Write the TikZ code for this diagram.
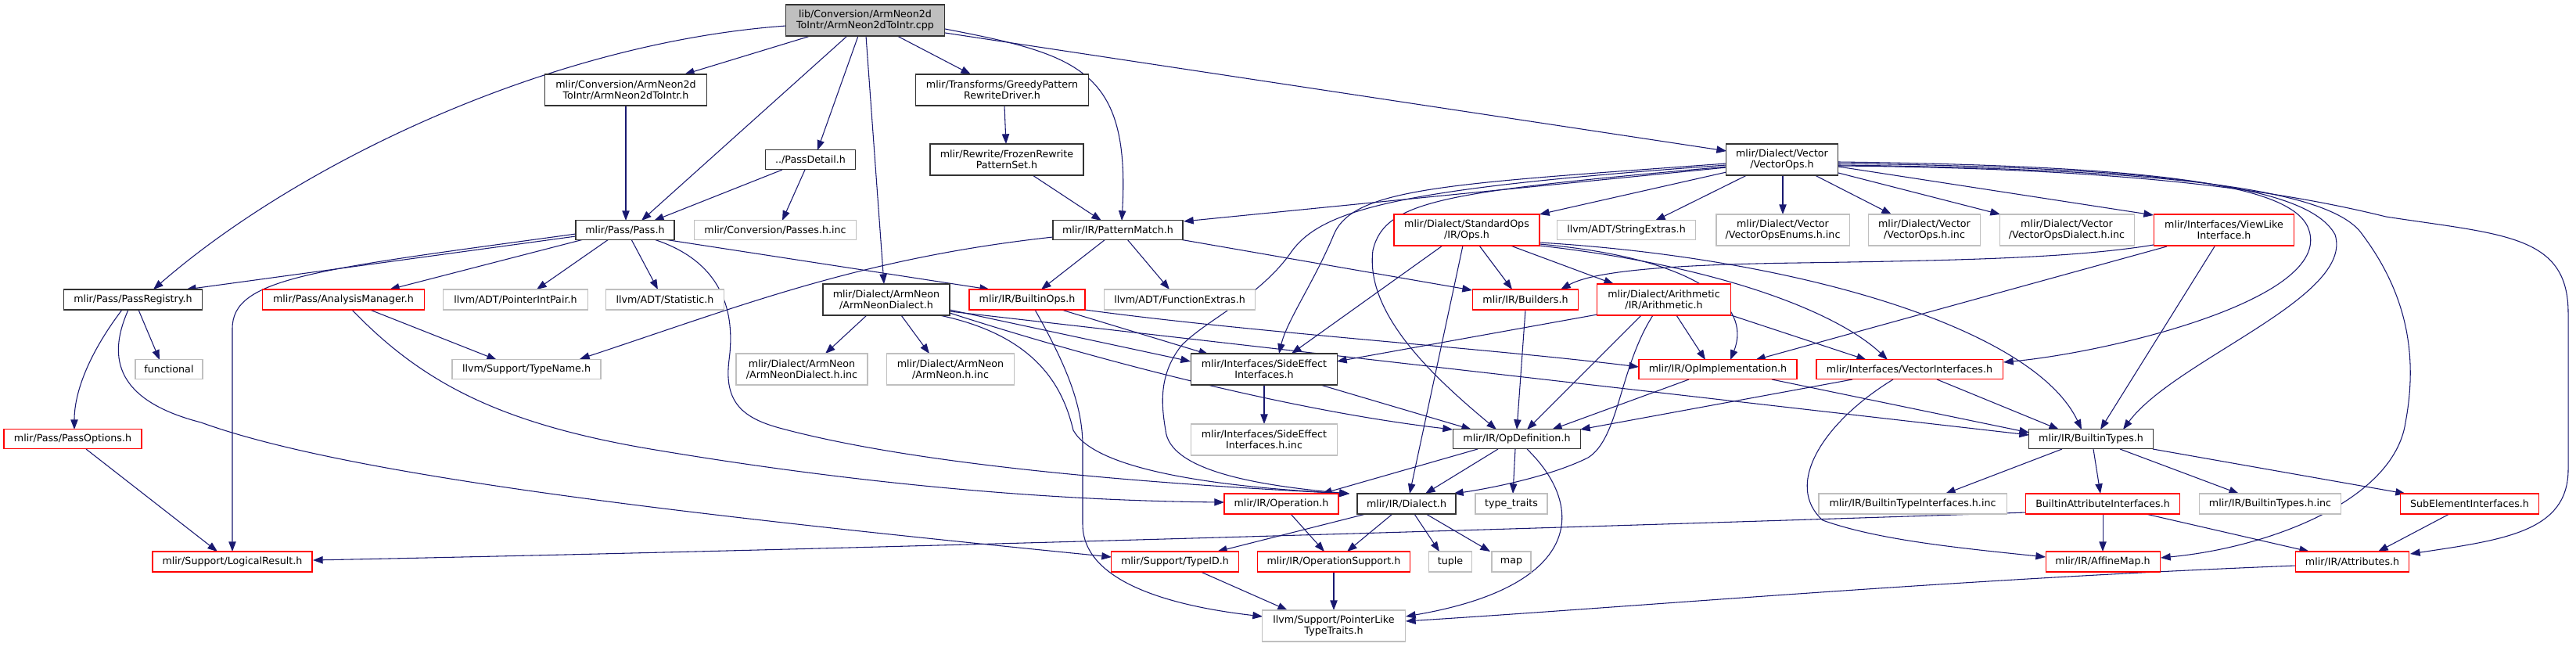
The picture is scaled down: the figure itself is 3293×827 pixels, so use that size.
\documentclass[tikz,border=0pt]{standalone}
\usepackage{fontspec}
\setmainfont{DejaVu Sans}
\usetikzlibrary{arrows.meta,calc,backgrounds}
\definecolor{edgec}{HTML}{191970}
\definecolor{boxgray}{HTML}{BFBFBF}
\definecolor{boxred}{HTML}{FF0000}
\begin{document}
\begin{tikzpicture}[x=0.75pt,y=-0.75pt,
 every node/.style={font=\fontsize{9.5}{10.7}\selectfont, align=center, inner sep=0pt, line width=0.8pt},
 sz/.style 2 args={minimum width=#1*0.75pt, minimum height=#2*0.75pt},
 nb/.style={draw=black!80, fill=white},
 nr/.style={draw=boxred, fill=white},
 ng/.style={draw=boxgray, fill=white},
 nroot/.style={draw=black!80, fill=boxgray},
 dep/.style={draw=edgec, line width=0.8pt, -{Triangle[length=9.5pt,width=7pt]}}]
\useasboundingbox (0,0) rectangle (3293,827);
% row 0
\node[nroot, sz={203}{40}] (root) at (1106,26) {lib/Conversion/ArmNeon2d\\ToIntr/ArmNeon2dToIntr.cpp};
% row 1
\node[nb, sz={207}{40}] (a2i) at (800,115) {mlir/Conversion/ArmNeon2d\\ToIntr/ArmNeon2dToIntr.h};
\node[nb, sz={221}{40}] (greedy) at (1281,115) {mlir/Transforms/GreedyPattern\\RewriteDriver.h};
% row 2
\node[nb, sz={115}{25}] (pdetail) at (1036,204) {../PassDetail.h};
\node[nb, sz={196}{40}] (frozen) at (1287,204) {mlir/Rewrite/FrozenRewrite\\PatternSet.h};
\node[nb, sz={143}{40}] (vops) at (2278,204) {mlir/Dialect/Vector\\/VectorOps.h};
% row 3
\node[nb, sz={126}{25}] (pass) at (799,294) {mlir/Pass/Pass.h};
\node[ng, sz={207}{25}] (passesinc) at (991,294) {mlir/Conversion/Passes.h.inc};
\node[nb, sz={166}{25}] (pmatch) at (1429,294) {mlir/IR/PatternMatch.h};
\node[nr, sz={186}{40}] (stdops) at (1875,294) {mlir/Dialect/StandardOps\\/IR/Ops.h};
\node[ng, sz={177}{25}] (strext) at (2079,294) {llvm/ADT/StringExtras.h};
\node[ng, sz={170}{40}] (venums) at (2279,294) {mlir/Dialect/Vector\\/VectorOpsEnums.h.inc};
\node[ng, sz={143}{40}] (vopsinc) at (2460,294) {mlir/Dialect/Vector\\/VectorOps.h.inc};
\node[ng, sz={172}{40}] (vdialinc) at (2642,294) {mlir/Dialect/Vector\\/VectorOpsDialect.h.inc};
\node[nr, sz={179}{40}] (viewlike) at (2843,294) {mlir/Interfaces/ViewLike\\Interface.h};
% row 4
\node[nb, sz={177}{26}] (passreg) at (170,383) {mlir/Pass/PassRegistry.h};
\node[nr, sz={207}{26}] (analysis) at (439,383) {mlir/Pass/AnalysisManager.h};
\node[ng, sz={185}{26}] (ptrint) at (659,383) {llvm/ADT/PointerIntPair.h};
\node[ng, sz={151}{26}] (statistic) at (850,383) {llvm/ADT/Statistic.h};
\node[nb, sz={162}{40}] (armdial) at (1133,383) {mlir/Dialect/ArmNeon\\/ArmNeonDialect.h};
\node[nr, sz={148}{26}] (builtinops) at (1313,383) {mlir/IR/BuiltinOps.h};
\node[ng, sz={193}{26}] (funcext) at (1508,383) {llvm/ADT/FunctionExtras.h};
\node[nr, sz={135}{26}] (builders) at (1950,383) {mlir/IR/Builders.h};
\node[nr, sz={171}{40}] (arith) at (2127,383) {mlir/Dialect/Arithmetic\\/IR/Arithmetic.h};
% row 5
\node[ng, sz={86}{25}] (functional) at (216,472) {functional};
\node[ng, sz={190}{25}] (typename) at (673,472) {llvm/Support/TypeName.h};
\node[ng, sz={168}{40}] (armdialinc) at (1025,472) {mlir/Dialect/ArmNeon\\/ArmNeonDialect.h.inc};
\node[ng, sz={163}{40}] (armneoninc) at (1215,472) {mlir/Dialect/ArmNeon\\/ArmNeon.h.inc};
\node[nb, sz={187}{40}] (sideeff) at (1616,472) {mlir/Interfaces/SideEffect\\Interfaces.h};
\node[nr, sz={202}{25}] (opimpl) at (2196,472) {mlir/IR/OpImplementation.h};
\node[nr, sz={238}{25}] (vecintf) at (2441,472) {mlir/Interfaces/VectorInterfaces.h};
% row 6
\node[nr, sz={176}{25}] (passopt) at (93,561) {mlir/Pass/PassOptions.h};
\node[ng, sz={187}{40}] (sideeffinc) at (1616,562) {mlir/Interfaces/SideEffect\\Interfaces.h.inc};
\node[nb, sz={163}{25}] (opdef) at (1939,561) {mlir/IR/OpDefinition.h};
\node[nb, sz={159}{25}] (btypes) at (2673,561) {mlir/IR/BuiltinTypes.h};
% row 7
\node[nr, sz={146}{26}] (operation) at (1638,644) {mlir/IR/Operation.h};
\node[nb, sz={126}{26}] (dialect) at (1798,644) {mlir/IR/Dialect.h};
\node[ng, sz={92}{26}] (typetraits) at (1932,644) {type\_traits};
\node[ng, sz={240}{26}] (btintinc) at (2445,644) {mlir/IR/BuiltinTypeInterfaces.h.inc};
\node[nr, sz={197}{26}] (battr) at (2688,644) {BuiltinAttributeInterfaces.h};
\node[ng, sz={181}{26}] (btypesinc) at (2902,644) {mlir/IR/BuiltinTypes.h.inc};
\node[nr, sz={177}{26}] (subelem) at (3157,644) {SubElementInterfaces.h};
% row 8
\node[nr, sz={204}{26}] (logical) at (297,718) {mlir/Support/LogicalResult.h};
\node[nr, sz={163}{26}] (typeid) at (1502,718) {mlir/Support/TypeID.h};
\node[nr, sz={195}{26}] (opsupport) at (1705,718) {mlir/IR/OperationSupport.h};
\node[ng, sz={55}{26}] (tuple) at (1854,718) {tuple};
\node[ng, sz={50}{26}] (map) at (1932,718) {map};
\node[nr, sz={146}{26}] (affine) at (2688,718) {mlir/IR/AffineMap.h};
\node[nr, sz={145}{26}] (attrs) at (3007,718) {mlir/IR/Attributes.h};
% row 9
\node[ng, sz={183}{40}] (ptrlike) at (1705,800) {llvm/Support/PointerLike\\TypeTraits.h};

\begin{scope}[on background layer]
% root
\draw[dep] ($(root)+(-101,7)$) .. controls (700,55) and (380,210) .. ($(passreg)+(26,-13)$);
\draw[dep] ($(root)+(-70,20)$) -- ($(a2i)+(75,-20)$);
\draw[dep] ($(root)+(-23,20)$) -- ($(pass)+(21,-12)$);
\draw[dep] ($(root)+(-9,20)$) -- ($(pdetail)+(9,-12)$);
\draw[dep] ($(root)+(1,20)$) -- ($(armdial)+(-3,-20)$);
\draw[dep] ($(root)+(41,20)$) -- ($(greedy)+(-40,-20)$);
\draw[dep] ($(root)+(102,11)$) .. controls (1380,70) and (1445,90) .. ($(pmatch)+(5,-12)$);
\draw[dep] ($(root)+(102,16)$) -- ($(vops)+(-71,-11)$);
\draw[dep] ($(a2i)+(0,20)$) -- ($(pass)+(1,-12)$);
\draw[dep] ($(pdetail)+(-36,13)$) -- ($(pass)+(37,-12)$);
\draw[dep] ($(pdetail)+(-7,13)$) -- ($(passesinc)+(9,-12)$);
\draw[dep] ($(greedy)+(3,20)$) -- ($(frozen)+(-1,-20)$);
\draw[dep] ($(frozen)+(33,20)$) -- ($(pmatch)+(-21,-12)$);
% pass
\draw[dep] ($(pass)+(-63,8)$) -- ($(passreg)+(68,-13)$);
\draw[dep] ($(pass)+(-63,5)$) .. controls (400,345) and (297,355) .. (297,420) -- ($(logical)+(0,-13)$);
\draw[dep] ($(pass)+(-53,12)$) -- ($(analysis)+(59,-13)$);
\draw[dep] ($(pass)+(-21,12)$) -- ($(ptrint)+(27,-13)$);
\draw[dep] ($(pass)+(8,12)$) -- ($(statistic)+(-9,-13)$);
\draw[dep] ($(pass)+(37,12)$) .. controls (925,335) and (940,400) .. (932,460) .. controls (925,515) and (950,535) .. (1000,548) .. controls (1150,588) and (1400,615) .. ($(dialect)+(-73,-13)$);
\draw[dep] ($(pass)+(37,10)$) -- ($(builtinops)+(-48,-13)$);
% passreg
\draw[dep] ($(passreg)+(7,13)$) -- ($(functional)+(-12,-12)$);
\draw[dep] ($(passreg)+(-14,13)$) .. controls (115,450) and (95,500) .. ($(passopt)+(2,-12)$);
\draw[dep] ($(passreg)+(-6,13)$) .. controls (140,450) and (140,510) .. (257,540) .. controls (450,610) and (900,660) .. ($(typeid)+(-81,-6)$);
\draw[dep] ($(passopt)+(17,13)$) -- ($(logical)+(-19,-13)$);
% analysis
\draw[dep] ($(analysis)+(34,13)$) -- ($(typename)+(-38,-12)$);
\draw[dep] ($(analysis)+(11,13)$) .. controls (540,490) and (640,540) .. (820,572) .. controls (1100,620) and (1350,640) .. ($(operation)+(-73,-2)$);
% patternmatch
\draw[dep] ($(pmatch)+(-83,9)$) .. controls (1100,330) and (950,390) .. ($(typename)+(68,-13)$);
\draw[dep] ($(pmatch)+(-16,12)$) -- ($(builtinops)+(18,-13)$);
\draw[dep] ($(pmatch)+(12,12)$) -- ($(funcext)+(-13,-13)$);
\draw[dep] ($(pmatch)+(79,12)$) -- ($(builders)+(-68,-12)$);
% builtinops
\draw[dep] ($(builtinops)+(10,13)$) .. controls (1365,470) and (1384,520) .. (1384,570) -- (1384,670) .. controls (1384,745) and (1500,775) .. ($(ptrlike)+(-91,-12)$);
\draw[dep] ($(builtinops)+(44,13)$) -- ($(sideeff)+(-71,-19)$);
\draw[dep] ($(builtinops)+(74,13)$) .. controls (1600,425) and (1900,445) .. ($(opimpl)+(-101,-3)$);
% armneon dialect
\draw[dep] ($(armdial)+(-25,20)$) -- ($(armdialinc)+(30,-20)$);
\draw[dep] ($(armdial)+(19,20)$) -- ($(armneoninc)+(-27,-20)$);
\draw[dep] ($(armdial)+(68,20)$) .. controls (1330,430) and (1360,500) .. (1372,550) .. controls (1400,600) and (1550,622) .. ($(dialect)+(-73,-13)$);
\draw[dep] ($(armdial)+(81,13)$) -- ($(sideeff)+(-94,-10)$);
\draw[dep] ($(armdial)+(81,17)$) .. controls (1400,460) and (1650,525) .. ($(opdef)+(-82,-12)$);
\draw[dep] ($(armdial)+(81,15)$) -- ($(btypes)+(-79,-5)$);
% vector ops
\draw[dep] ($(vops)+(-71,10)$) -- ($(pmatch)+(84,-11)$);
\draw[dep] ($(vops)+(-71,16)$) -- ($(stdops)+(93,-20)$);
\draw[dep] ($(vops)+(-45,20)$) -- ($(strext)+(37,-12)$);
\draw[dep] ($(vops)+(1,20)$) -- ($(venums)+(0,-20)$);
\draw[dep] ($(vops)+(42,20)$) -- ($(vopsinc)+(-42,-20)$);
\draw[dep] ($(vops)+(72,17)$) -- ($(vdialinc)+(-85,-20)$);
\draw[dep] ($(vops)+(72,9)$) -- ($(viewlike)+(-90,-19)$);
\draw[dep] ($(vops)+(72,3)$) .. controls (2750,212) and (2925,235) .. (2950,290) .. controls (2990,380) and (2700,450) .. ($(vecintf)+(120,-9)$);
\draw[dep] ($(vops)+(72,5)$) .. controls (2750,214) and (2950,235) .. (2985,300) .. controls (3010,380) and (2780,460) .. ($(btypes)+(41,-12)$);
\draw[dep] ($(vops)+(72,7)$) .. controls (2760,216) and (2980,240) .. (3020,300) .. controls (3080,380) and (3090,460) .. (3075,540) .. controls (3060,640) and (2900,700) .. ($(affine)+(74,-5)$);
\draw[dep] ($(vops)+(72,8)$) .. controls (2700,215) and (2900,240) .. (3050,277) .. controls (3200,300) and (3283,300) .. (3283,400) -- (3283,600) .. controls (3283,680) and (3200,690) .. ($(attrs)+(74,-10)$);
\draw[dep] ($(vops)+(-71,7)$) .. controls (1800,240) and (1690,265) .. (1650,323) .. controls (1610,380) and (1540,410) .. (1510,442) .. controls (1480,480) and (1485,520) .. (1490,550) .. controls (1495,600) and (1600,620) .. ($(dialect)+(-73,-13)$);
\draw[dep] ($(vops)+(-71,5)$) .. controls (1850,235) and (1730,240) .. (1705,300) .. controls (1680,360) and (1645,410) .. ($(sideeff)+(19,-20)$);
\draw[dep] ($(vops)+(-71,9)$) .. controls (1850,245) and (1770,255) .. (1755,320) .. controls (1745,400) and (1830,480) .. ($(opdef)+(-26,-12)$);
% standard ops
\draw[dep] ($(stdops)+(-31,20)$) -- ($(sideeff)+(35,-20)$);
\draw[dep] ($(stdops)+(-5,20)$) -- ($(dialect)+(4,-13)$);
\draw[dep] ($(stdops)+(16,20)$) -- ($(builders)+(-17,-13)$);
\draw[dep] ($(stdops)+(56,20)$) -- ($(arith)+(-64,-20)$);
\draw[dep] ($(stdops)+(93,18)$) .. controls (2170,330) and (2240,390) .. ($(opimpl)+(16,-12)$);
\draw[dep] ($(stdops)+(93,20)$) .. controls (2200,340) and (2350,400) .. ($(vecintf)+(-28,-12)$);
\draw[dep] ($(stdops)+(93,16)$) .. controls (2300,330) and (2600,420) .. ($(btypes)+(-12,-12)$);
% arithmetic
\draw[dep] ($(arith)+(-85,19)$) -- ($(sideeff)+(93,-10)$);
\draw[dep] ($(arith)+(-29,20)$) -- ($(opdef)+(13,-12)$);
\draw[dep] ($(arith)+(-14,20)$) .. controls (2070,470) and (2070,560) .. (2030,585) .. controls (1980,610) and (1900,625) .. ($(dialect)+(60,-13)$);
\draw[dep] ($(arith)+(16,20)$) -- ($(opimpl)+(-16,-12)$);
\draw[dep] ($(arith)+(86,20)$) -- ($(vecintf)+(-55,-12)$);
% builders, opimpl, vecintf, viewlike
\draw[dep] ($(builders)+(0,13)$) -- ($(opdef)+(0,-12)$);
\draw[dep] ($(opimpl)+(-37,13)$) -- ($(opdef)+(45,-12)$);
\draw[dep] ($(opimpl)+(69,13)$) -- ($(btypes)+(-79,-8)$);
\draw[dep] ($(vecintf)+(-73,13)$) -- ($(opdef)+(81,-12)$);
\draw[dep] ($(vecintf)+(35,13)$) -- ($(btypes)+(-41,-12)$);
\draw[dep] ($(vecintf)+(-21,13)$) .. controls (2330,540) and (2280,620) .. (2330,665) .. controls (2400,690) and (2500,700) .. ($(affine)+(-73,-6)$);
\draw[dep] ($(viewlike)+(-90,19)$) .. controls (2650,330) and (2500,333) .. (2300,336) .. controls (2150,338) and (2040,345) .. ($(builders)+(45,-13)$);
\draw[dep] ($(viewlike)+(-73,21)$) -- ($(opimpl)+(48,-12)$);
\draw[dep] ($(viewlike)+(-12,21)$) -- ($(btypes)+(12,-12)$);
% side effect
\draw[dep] ($(sideeff)+(0,20)$) -- ($(sideeffinc)+(0,-20)$);
\draw[dep] ($(sideeff)+(72,20)$) -- ($(opdef)+(-58,-12)$);
% opdef
\draw[dep] ($(opdef)+(-50,13)$) -- ($(operation)+(52,-13)$);
\draw[dep] ($(opdef)+(-24,13)$) -- ($(dialect)+(24,-13)$);
\draw[dep] ($(opdef)+(-2,13)$) -- ($(typetraits)+(2,-13)$);
\draw[dep] ($(opdef)+(13,13)$) .. controls (2030,650) and (2020,750) .. ($(ptrlike)+(92,-12)$);
% operation, dialect
\draw[dep] ($(operation)+(12,13)$) -- ($(opsupport)+(-12,-13)$);
\draw[dep] ($(dialect)+(-18,13)$) -- ($(opsupport)+(17,-13)$);
\draw[dep] ($(dialect)+(-52,13)$) -- ($(typeid)+(54,-13)$);
\draw[dep] ($(dialect)+(10,13)$) -- ($(tuple)+(-14,-13)$);
\draw[dep] ($(dialect)+(25,13)$) -- ($(map)+(-27,-13)$);
\draw[dep] ($(opsupport)+(0,13)$) -- ($(ptrlike)+(0,-20)$);
\draw[dep] ($(typeid)+(33,13)$) -- ($(ptrlike)+(-59,-20)$);
% builtin types
\draw[dep] ($(btypes)+(-37,13)$) -- ($(btintinc)+(42,-13)$);
\draw[dep] ($(btypes)+(3,13)$) -- ($(battr)+(-3,-13)$);
\draw[dep] ($(btypes)+(37,13)$) -- ($(btypesinc)+(-40,-13)$);
\draw[dep] ($(btypes)+(79,13)$) -- ($(subelem)+(-82,-13)$);
\draw[dep] ($(battr)+(-97,11)$) .. controls (2200,668) and (1200,700) .. ($(logical)+(103,-2)$);
\draw[dep] ($(battr)+(0,13)$) -- ($(affine)+(0,-13)$);
\draw[dep] ($(battr)+(55,13)$) -- ($(attrs)+(-55,-13)$);
\draw[dep] ($(subelem)+(-26,13)$) -- ($(attrs)+(33,-13)$);
\draw[dep] ($(attrs)+(-72,5)$) .. controls (2500,740) and (2100,775) .. ($(ptrlike)+(92,-6)$);
\end{scope}
\end{tikzpicture}
\end{document}
